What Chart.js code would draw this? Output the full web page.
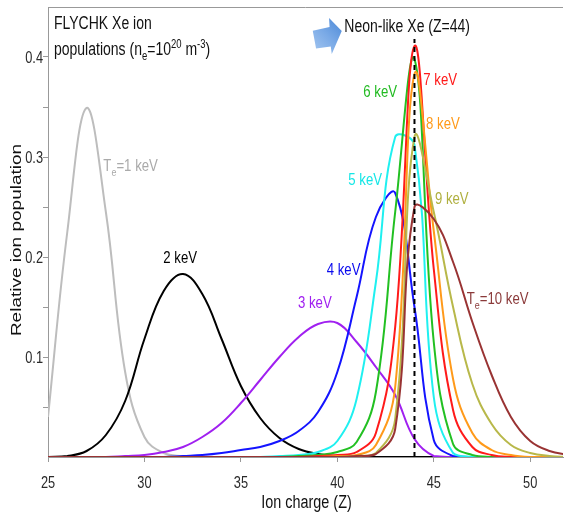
<!DOCTYPE html>
<html><head><meta charset="utf-8">
<script src="https://cdn.jsdelivr.net/npm/chart.js@4.4.1/dist/chart.umd.min.js"></script>
<style>html,body{margin:0;padding:0;background:#fff;}#wrap{width:564px;height:512px;}</style>
</head><body><div id="wrap"><canvas id="c" width="564" height="512"></canvas></div>
<script>
// ---- data ----
const charges = [25,26,27,28,29,30,31,32,33,34,35,36,37,38,39,40,41,42,43,44,45,46,47,48,49,50,51,52];
const te1keV  = [0.040,0.225,0.349,0.245,0.085,0.020,0.004,0.001,0,0,0,0,0,0,0,0,0,0,0,0,0,0,0,0,0,0,0,0];
const te2keV  = [0,0.001,0.006,0.022,0.056,0.118,0.166,0.183,0.163,0.118,0.071,0.039,0.019,0.008,0.003,0.001,0,0,0,0,0,0,0,0,0,0,0,0];
const te3keV  = [0,0,0,0,0.001,0.002,0.005,0.010,0.020,0.034,0.054,0.077,0.100,0.120,0.133,0.134,0.115,0.090,0.062,0.018,0.001,0,0,0,0,0,0,0];
const te4keV  = [0,0,0,0,0,0,0,0.001,0.002,0.004,0.007,0.010,0.016,0.026,0.045,0.085,0.160,0.240,0.264,0.150,0.017,0.001,0,0,0,0,0,0];
const te5keV  = [0,0,0,0,0,0,0,0,0,0,0,0,0.001,0.002,0.005,0.016,0.058,0.175,0.320,0.312,0.060,0.004,0,0,0,0,0,0];
const te6keV  = [0,0,0,0,0,0,0,0,0,0,0,0,0,0.001,0.002,0.005,0.015,0.065,0.245,0.398,0.115,0.013,0.002,0,0,0,0,0];
const te7keV  = [0,0,0,0,0,0,0,0,0,0,0,0,0,0,0.001,0.002,0.005,0.024,0.130,0.411,0.188,0.047,0.010,0.002,0,0,0,0];
const te8keV  = [0,0,0,0,0,0,0,0,0,0,0,0,0,0,0,0.001,0.002,0.012,0.070,0.383,0.226,0.078,0.024,0.007,0.002,0,0,0];
const te9keV  = [0,0,0,0,0,0,0,0,0,0,0,0,0,0,0,0,0.001,0.004,0.038,0.320,0.245,0.150,0.073,0.033,0.012,0.004,0.001,0];
const te10keV = [0,0,0,0,0,0,0,0,0,0,0,0,0,0,0,0,0.001,0.003,0.028,0.250,0.238,0.195,0.135,0.082,0.040,0.016,0.006,0.002];
const xTickValues = [25,30,35,40,45,50];
const yTickValues = [0.05,0.1,0.15,0.2,0.25,0.3,0.35,0.4];
const yLabelledTicks = [0.1,0.2,0.3,0.4];
const neonLikeZ = 44;
const neonLikeTop = 0.418;

const BASE = '"Liberation Sans", Arial, sans-serif';
const SQUEEZE = 0.8;

// ---- datasets ----
function series(vals){ return charges.map((z,i)=>({x:z,y:vals[i]})); }
function lineDs(label, vals, color){
  return {label, data:series(vals), borderColor:color, backgroundColor:color, borderWidth:2,
    pointRadius:0, tension:0.4, fill:false};
}
const datasets = [
  {label:'Neon-like Xe', data:[{x:neonLikeZ,y:0},{x:neonLikeZ,y:neonLikeTop}], borderColor:'#000', borderWidth:2, borderDash:[5,4], pointRadius:0, tension:0, fill:false},
  lineDs('10 keV', te10keV, '#993333'),
  lineDs('9 keV', te9keV, '#b8b84a'),
  lineDs('8 keV', te8keV, '#ff9a1a'),
  lineDs('7 keV', te7keV, '#ff1a1a'),
  lineDs('6 keV', te6keV, '#22c022'),
  lineDs('5 keV', te5keV, '#1ff0f0'),
  lineDs('4 keV', te4keV, '#1414ff'),
  lineDs('3 keV', te3keV, '#a020f0'),
  lineDs('2 keV', te2keV, '#000000'),
  lineDs('1 keV', te1keV, '#bdbdbd'),
];

// ---- annotations (text anchored in data coordinates) ----
const curveLabels = [
  {z:27.87, v:0.286, color:'#aaaaaa', parts:[['T','n'],['e','sub'],['=1 keV','n']]},
  {z:30.98, v:0.194, color:'#000000', parts:[['2 keV','n']]},
  {z:37.96, v:0.149, color:'#a020f0', parts:[['3 keV','n']]},
  {z:39.45, v:0.182, color:'#0a0aee', parts:[['4 keV','n']]},
  {z:40.57, v:0.272, color:'#15e6e6', parts:[['5 keV','n']]},
  {z:41.35, v:0.360, color:'#22bb22', parts:[['6 keV','n']]},
  {z:44.46, v:0.372, color:'#ff1a1a', parts:[['7 keV','n']]},
  {z:44.60, v:0.328, color:'#ff9a1a', parts:[['8 keV','n']]},
  {z:45.06, v:0.253, color:'#b0b040', parts:[['9 keV','n']]},
  {z:46.71, v:0.153, color:'#8b3a3a', parts:[['T','n'],['e','sub'],['=10 keV','n']]},
];
const titleLines = [
  {z:25.31, v:0.428, color:'#111', size:17.5, parts:[['FLYCHK Xe ion','n']]},
  {z:25.31, v:0.402, color:'#111', size:17.5, parts:[['populations (n','n'],['e','sub'],['=10','n'],['20','sup'],[' m','n'],['-3','sup'],[')','n']]},
  {z:40.36, v:0.425, color:'#111', size:17.5, parts:[['Neon-like Xe (Z=44)','n']]},
];
const arrowTip = {z:40.23, v:0.426};

function drawRich(ctx, x, y, parts, size, color, align){
  ctx.save();
  ctx.translate(x,y);
  ctx.scale(SQUEEZE,1);
  ctx.fillStyle=color; ctx.textBaseline='alphabetic'; ctx.textAlign='left';
  let total=0;
  const segs=parts.map(([t,m])=>{
    let s=size, dy=0;
    if(m==='sub'){s=size*0.68; dy=size*0.28;}
    if(m==='sup'){s=size*0.68; dy=-size*0.42;}
    ctx.font=s+'px '+BASE; const w=ctx.measureText(t).width; total+=w;
    return {t,s,dy,w};
  });
  let cx = align==='center' ? -total/2 : align==='right' ? -total : 0;
  for(const g of segs){ ctx.font=g.s+'px '+BASE; ctx.fillText(g.t,cx,g.dy); cx+=g.w; }
  ctx.restore();
}

const decor = {
  id:'decor',
  afterDraw(chart){
    const ctx=chart.ctx, xs=chart.scales.x, ys=chart.scales.y, a=chart.chartArea;
    // top frame line
    ctx.save();
    ctx.strokeStyle='#999'; ctx.lineWidth=1;
    ctx.beginPath(); ctx.moveTo(a.left, a.top+0.5); ctx.lineTo(a.right, a.top+0.5); ctx.stroke();
    ctx.restore();
    // arrow
    const tx=xs.getPixelForValue(arrowTip.z), ty=ys.getPixelForValue(arrowTip.v);
    const pts=[[-29,-0.3],[-12.2,-4],[-12.7,-13],[0,0],[-10,23],[-11,15.5],[-25.7,17.5]];
    ctx.save();
    const g=ctx.createLinearGradient(tx-29,ty+18,tx,ty-10);
    g.addColorStop(0,'#9fc3ef'); g.addColorStop(0.5,'#79a9e6'); g.addColorStop(1,'#4f8bd9');
    ctx.fillStyle=g;
    ctx.beginPath();
    pts.forEach(([dx,dy],i)=>{ if(i===0) ctx.moveTo(tx+dx,ty+dy); else ctx.lineTo(tx+dx,ty+dy); });
    ctx.closePath(); ctx.fill();
    ctx.restore();
    // tick labels from the library's scales (squeezed like the reference)
    for(const t of xs.ticks){
      drawRich(ctx, xs.getPixelForValue(t.value), a.bottom+31, [[String(t.value),'n']], 16, '#2a2a2a', 'center');
    }
    for(const t of ys.ticks){
      if(!yLabelledTicks.some(v=>Math.abs(v-t.value)<1e-9)) continue;
      drawRich(ctx, a.left-5, ys.getPixelForValue(t.value)+6, [[t.value.toFixed(1),'n']], 16, '#2a2a2a', 'right');
    }
    // axis titles
    drawRich(ctx, (a.left+a.right)/2 + 1, 512-4, [['Ion charge (Z)','n']], 18, '#111', 'center');
    ctx.save();
    ctx.translate(17, (a.top+a.bottom)/2 + 8);
    ctx.scale(SQUEEZE,1);
    ctx.rotate(-Math.PI/2);
    ctx.fillStyle='#111'; ctx.font='19px '+BASE; ctx.textAlign='center'; ctx.textBaseline='middle';
    ctx.fillText('Relative ion population',0,0);
    ctx.restore();
    // texts
    for(const L of titleLines) drawRich(ctx, xs.getPixelForValue(L.z), ys.getPixelForValue(L.v), L.parts, L.size, L.color);
    for(const L of curveLabels) drawRich(ctx, xs.getPixelForValue(L.z), ys.getPixelForValue(L.v), L.parts, 16.5, L.color);
  }
};

new Chart(document.getElementById('c'), {
  type:'line',
  data:{datasets},
  options:{
    responsive:false, animation:false, devicePixelRatio:1,
    layout:{padding:{top:7,right:1,left:0,bottom:0}},
    plugins:{legend:{display:false}, tooltip:{enabled:false}},
    scales:{
      x:{type:'linear', min:25, max:51.7,
        afterBuildTicks(s){ s.ticks = xTickValues.map(v=>({value:v})); },
        afterFit(s){ s.height = 55; },
        grid:{drawOnChartArea:false, drawTicks:true, tickLength:5, color:'#999'},
        border:{color:'#999', width:1},
        ticks:{display:false},
        title:{display:false}
      },
      y:{type:'linear', min:0, max:0.45,
        afterBuildTicks(s){ s.ticks = yTickValues.map(v=>({value:v})); },
        afterFit(s){ s.width = 48; },
        grid:{drawOnChartArea:false, drawTicks:true, tickLength:5, color:'#999'},
        border:{color:'#999', width:1},
        ticks:{display:false}
      }
    }
  },
  plugins:[decor]
});
</script>
</body></html>
